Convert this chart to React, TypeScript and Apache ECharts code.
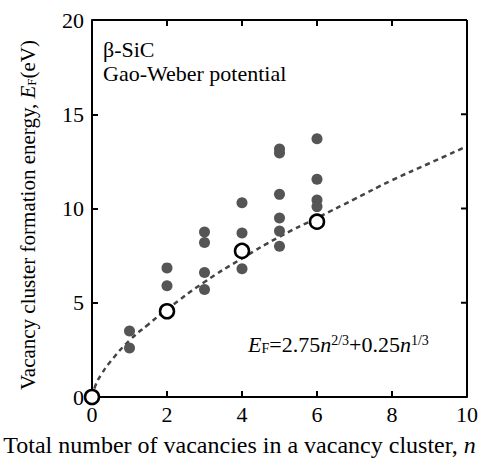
import React, { useEffect, useRef } from "react";
import * as echarts from "echarts";

const xTicks = [0, 2, 4, 6, 8, 10];
const yTicks = [0, 5, 10, 15, 20];

// filled points: [n, E_F]
const clusterN = [1, 1, 2, 2, 3, 3, 3, 3, 4, 4, 4, 5, 5, 5, 5, 5, 5, 6, 6, 6, 6];
const clusterE = [3.5, 2.6, 6.85, 5.9, 8.75, 8.2, 6.6, 5.7, 10.3, 8.7, 6.8, 13.15, 12.95, 10.75, 9.5, 8.8, 8.0, 13.7, 11.55, 10.45, 10.1];

// open circles (lowest energy)
const minN = [0, 2, 4, 6];
const minE = [0, 4.55, 7.75, 9.3];

// dashed fit curve
const fitN = [0, 0.1, 0.25, 0.5, 1, 1.5, 2, 3, 4, 5, 6, 7, 8, 9, 10];
const fitE = [0, 0.65, 1.2, 1.9, 3.0, 3.85, 4.65, 6.1, 7.35, 8.5, 9.5, 10.5, 11.5, 12.4, 13.3];

const FONT = "Liberation Serif";
const FS = 22;

export default function App() {
  const ref = useRef<HTMLDivElement>(null);
  useEffect(() => {
    document.body.style.margin = "0";
    if (!ref.current) return;
    const chart = echarts.init(ref.current, null, { renderer: "svg" });
    const mkTick = () => ({ show: true, inside: true, length: 6, lineStyle: { color: "#000", width: 2 } });
    chart.setOption({
      animation: false,
      backgroundColor: "#fff",
      grid: {
        left: 92,
        right: 19,
        top: 20,
        bottom: 64,
        containLabel: false,
        outerBoundsMode: "none",
      },
      xAxis: {
        type: "value",
        min: 0,
        max: 10,
        interval: 2,
        axisLine: { show: true, lineStyle: { color: "#000", width: 2 } },
        axisTick: mkTick(),
        splitLine: { show: false },
        axisLabel: {
          fontFamily: FONT,
          fontSize: FS,
          color: "#000",
          margin: 6,
          formatter: (v: number) => (xTicks.includes(v) ? String(v) : ""),
        },
        name: "{a|Total number of vacancies in a vacancy cluster, }{i|n}",
        nameLocation: "middle",
        nameGap: 36,
        nameTextStyle: {
          fontFamily: FONT,
          fontSize: 24,
          lineHeight: 24,
          padding: [0, 80, 0, 0],
          rich: {
            a: { fontFamily: FONT, fontSize: 24, lineHeight: 24, color: "#000" },
            i: { fontFamily: FONT, fontSize: 24, lineHeight: 24, color: "#000", fontStyle: "italic" },
          },
        },
      },
      yAxis: {
        type: "value",
        min: 0,
        max: 20,
        interval: 5,
        axisLine: { show: true, lineStyle: { color: "#000", width: 2 } },
        axisTick: mkTick(),
        splitLine: { show: false },
        axisLabel: {
          fontFamily: FONT,
          fontSize: FS,
          color: "#000",
          margin: 8,
          formatter: (v: number) => (yTicks.includes(v) ? String(v) : ""),
        },
        name: "{a|Vacancy cluster formation energy, }{i|E}{s|F}{a|(eV)}",
        nameLocation: "middle",
        nameRotate: 90,
        nameGap: 54,
        nameTextStyle: {
          fontFamily: FONT,
          fontSize: 21,
          padding: [0, 13, 0, 0],
          rich: {
            a: { fontFamily: FONT, fontSize: 21, color: "#000" },
            i: { fontFamily: FONT, fontSize: 21, color: "#000", fontStyle: "italic" },
            s: { fontFamily: FONT, fontSize: 13, color: "#000", verticalAlign: "bottom", lineHeight: 17 },
          },
        },
      },
      graphic: [
        {
          type: "text",
          left: 103,
          top: 38,
          style: { text: "β-SiC", fontFamily: FONT, fontSize: FS, fill: "#000" },
        },
        {
          type: "text",
          left: 103,
          top: 62,
          style: { text: "Gao-Weber potential", fontFamily: FONT, fontSize: FS, fill: "#000" },
        },
        {
          type: "text",
          left: 248,
          top: 333,
          style: {
            text: "{i|E}{s|F}{a|=2.75}{i|n}{p|2/3}{a|+0.25}{i|n}{p|1/3}",
            fontFamily: FONT,
            fontSize: FS,
            fill: "#000",
            rich: {
              a: { fontFamily: FONT, fontSize: FS, fill: "#000" },
              i: { fontFamily: FONT, fontSize: FS, fontStyle: "italic", fill: "#000" },
              s: { fontFamily: FONT, fontSize: 14, fill: "#000", verticalAlign: "bottom", lineHeight: 18 },
              p: { fontFamily: FONT, fontSize: 14, fill: "#000", verticalAlign: "top", lineHeight: 18 },
            },
          },
        },
      ],
      series: [
        {
          // plot frame with mirrored inward ticks on top and right, placed by the axes' scales
          type: "custom",
          data: [[xTicks[0], yTicks[0]]],
          clip: false,
          silent: true,
          z: 5,
          renderItem: (_params: any, api: any) => {
            const [x0, y0] = api.coord([xTicks[0], yTicks[0]]);
            const [x1, y1] = api.coord([xTicks[xTicks.length - 1], yTicks[yTicks.length - 1]]);
            const st = { stroke: "#000", lineWidth: 2, fill: null };
            const children: any[] = [
              { type: "line", shape: { x1: x0, y1: y1, x2: x1, y2: y1 }, style: st },
              { type: "line", shape: { x1: x1, y1: y1, x2: x1, y2: y0 }, style: st },
            ];
            xTicks.slice(1, -1).forEach((v) => {
              const [tx] = api.coord([v, yTicks[0]]);
              children.push({ type: "line", shape: { x1: tx, y1: y1, x2: tx, y2: y1 + 6 }, style: st });
            });
            yTicks.slice(1, -1).forEach((v) => {
              const [, ty] = api.coord([xTicks[0], v]);
              children.push({ type: "line", shape: { x1: x1 - 6, y1: ty, x2: x1, y2: ty }, style: st });
            });
            return { type: "group", children };
          },
        },
        {
          type: "line",
          data: fitN.map((n, i) => [n, fitE[i]]),
          smooth: true,
          showSymbol: false,
          lineStyle: { color: "#444", width: 2.5, type: [5, 4] },
          z: 1,
        },
        {
          type: "scatter",
          data: clusterN.map((n, i) => [n, clusterE[i]]),
          symbolSize: 11,
          itemStyle: { color: "#555", opacity: 1 },
          z: 2,
        },
        {
          type: "scatter",
          data: minN.map((n, i) => [n, minE[i]]),
          symbolSize: 14,
          itemStyle: { color: "#fff", borderColor: "#000", borderWidth: 2.5, opacity: 1 },
          z: 3,
        },
      ],
    });
    return () => chart.dispose();
  }, []);
  return <div ref={ref} style={{ width: 486, height: 461 }} />;
}
